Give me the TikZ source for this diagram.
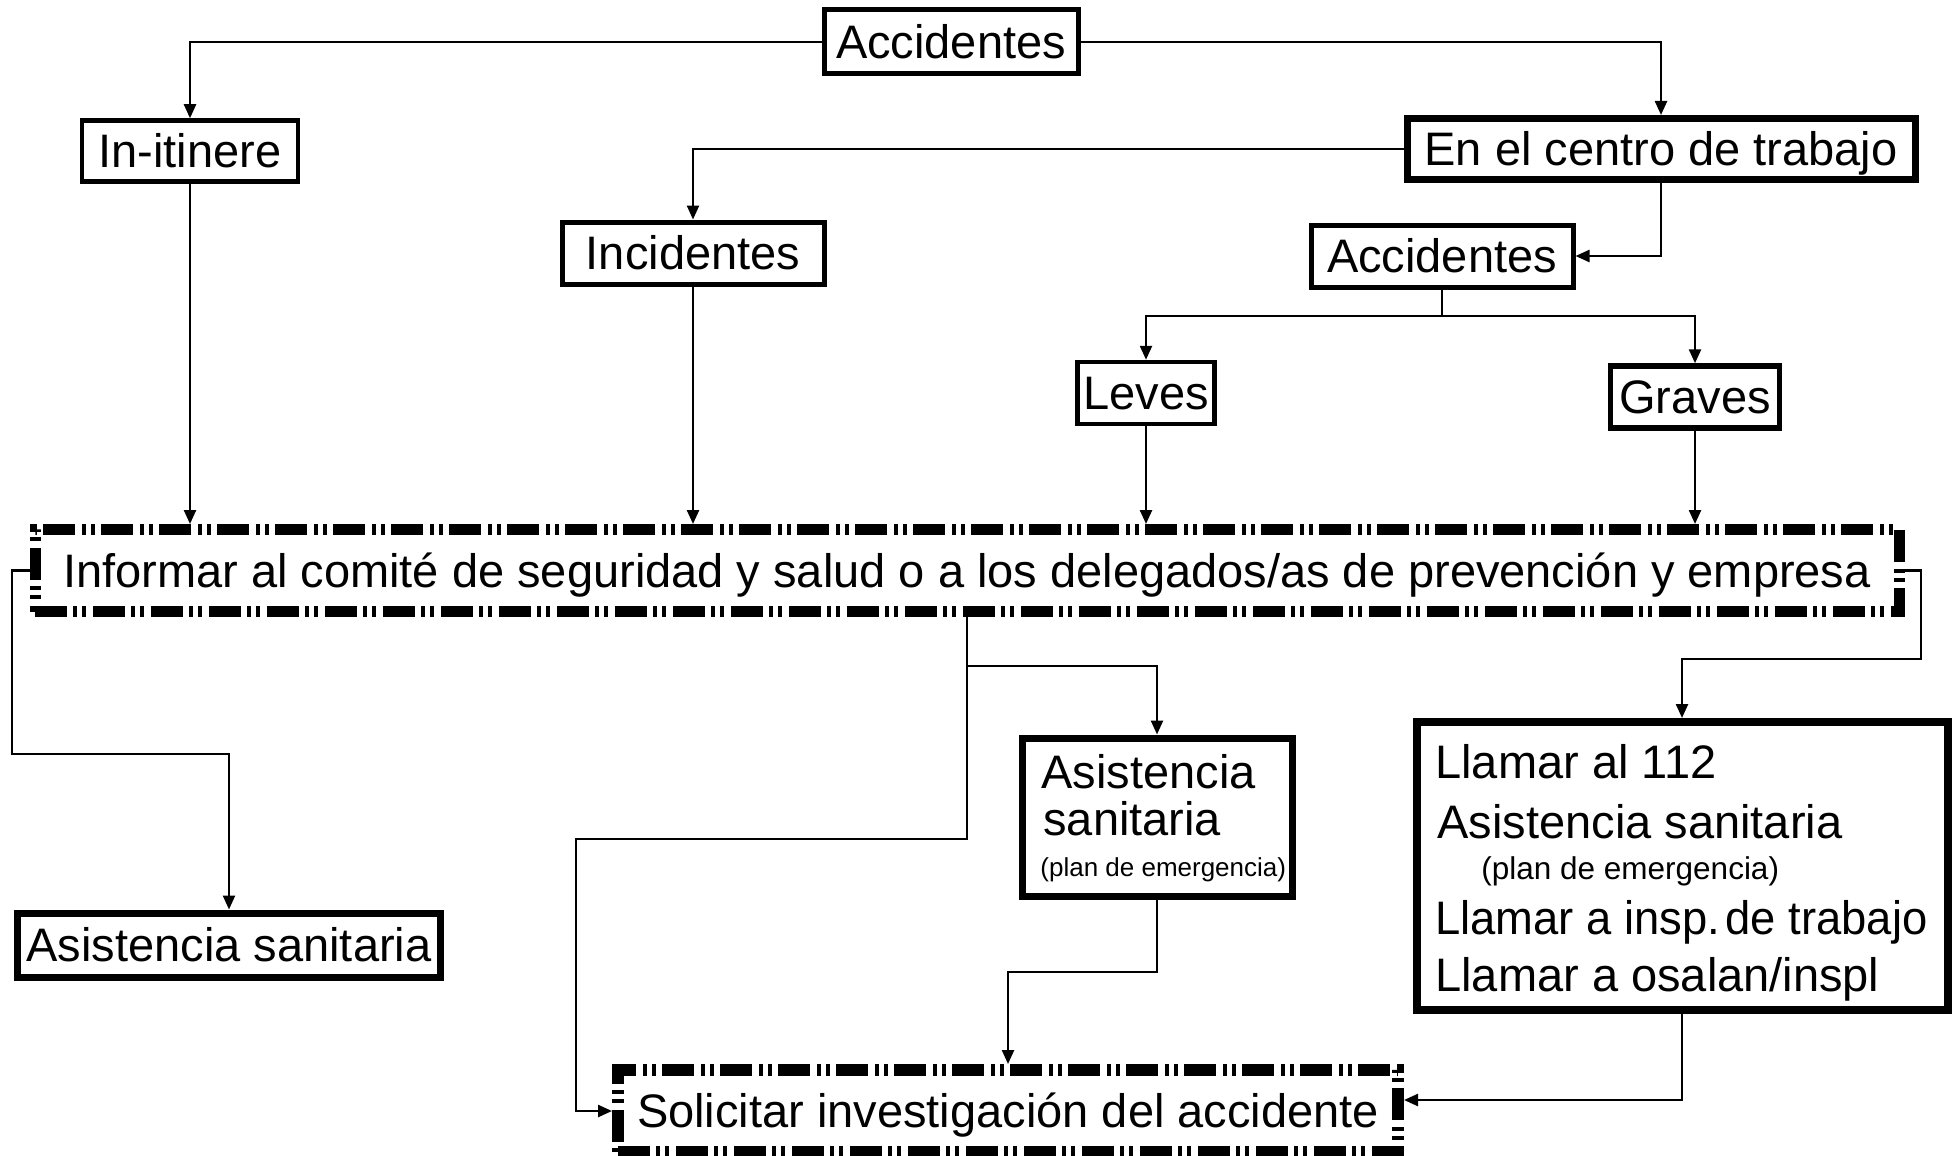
\documentclass[tikz,border=0pt]{standalone}
\usepackage{fontspec}
\setmainfont{Liberation Sans}
\usetikzlibrary{arrows.meta}
\newcommand\bigfnt{\fontsize{23.5}{28}\selectfont}
\newcommand\midfnt{\fontsize{15.75}{18}\selectfont}
\newcommand\smlfnt{\fontsize{13}{15}\selectfont}
\begin{document}
\begin{tikzpicture}[x=0.5pt,y=-0.5pt,
  box/.style={draw=black, fill=white, inner sep=0pt, font=\bigfnt, text height=16.8pt, text depth=0pt},
  txt/.style={inner sep=0pt, font=\bigfnt, anchor=base west},
  dbox/.style={draw=black, fill=white, inner sep=0pt, font=\bigfnt, text height=16.8pt, text depth=0pt,
     dash pattern=on 16pt off 3pt on 2pt off 2.5pt on 2pt off 3.5pt},
  conn/.style={draw=black, line width=1.2pt, -{Triangle[length=7pt,width=6pt]}},
  plain/.style={draw=black, line width=1.2pt}
]
\useasboundingbox (0,0) rectangle (1960,1156);

% nodes
\node[box, line width=2.5pt, minimum width=127pt, minimum height=32pt] (acc1) at (951,42) {Accidentes};
\node[box, line width=2.25pt, minimum width=108pt, minimum height=30.5pt] (itin) at (190,151) {In-itinere};
\node[box, line width=3.5pt, minimum width=254pt, minimum height=30.5pt] (centro) at (1661,149) {En el centro de trabajo};
\node[box, line width=2.5pt, minimum width=131pt, minimum height=31pt] (incid) at (693,253) {Incidentes};
\node[box, line width=2.5pt, minimum width=131pt, minimum height=31pt] (acc2) at (1442,256) {Accidentes};
\node[box, line width=2.25pt, minimum width=68.5pt, minimum height=31pt] (leves) at (1146,393) {Leves};
\node[box, line width=2.75pt, minimum width=84.5pt, minimum height=31pt] (graves) at (1695,397) {Graves};
\node[dbox, line width=5.5pt, minimum width=932pt, minimum height=41pt] (informar) at (967,570.5)
   {Informar al comité de seguridad y salud o a los delegados/as de prevención y empresa};
\node[box, line width=3.5pt, minimum width=211.5pt, minimum height=32pt] (asist1) at (229,945) {Asistencia sanitaria};
\node[box, line width=3.5pt, minimum width=135pt, minimum height=79pt] (asist2) at (1157,817) {};
\node[box, line width=4pt, minimum width=265.5pt, minimum height=144pt] (llamar) at (1682,866) {};
\node[dbox, line width=6pt, minimum width=390pt, minimum height=41pt] (solic) at (1008,1111)
   {Solicitar investigación del accidente};

% texts inside multi-line boxes
\node[txt] (a2l1) at (1041,788) {Asistencia};
\node[txt] (a2l2) at (1043,835) {sanitaria};
\node[txt, font=\smlfnt] (a2l3) at (1040,876) {(plan de emergencia)};

\node[txt] (ll1) at (1435,778) {Llamar al 112};
\node[txt] (ll2) at (1437,838) {Asistencia sanitaria};
\node[txt, font=\midfnt] (ll3) at (1481,879) {(plan de emergencia)};
\node[txt] (ll4) at (1435,934) {\scalebox{0.965}[1]{Llamar a insp.\hspace{0.12em}de trabajo}};
\node[txt] (ll5) at (1435,991) {Llamar a osalan/inspl};

% junction coordinates
\coordinate (j1) at (1442,316);
\coordinate (w1) at (12,754);
\coordinate (j2) at (967,666);
\coordinate (j3) at (967,839);
\coordinate (j4) at (576,839);
\coordinate (j5) at (1157,972);
\coordinate (j6) at (1921,659);
\coordinate (j7) at (1682,1100);

% connectors
\draw[conn] (acc1.west) -| (itin.north);
\draw[conn] (acc1.east) -| (centro.north);
\draw[conn] (centro.west) -| (incid.north);
\draw[conn] (centro.south) |- (acc2.east);
\draw[plain] (acc2.south) -- (j1);
\draw[conn] (j1) -| (leves.north);
\draw[conn] (j1) -| (graves.north);
\draw[conn] (itin.south) -- (itin.south |- informar.north);
\draw[conn] (incid.south) -- (incid.south |- informar.north);
\draw[conn] (leves.south) -- (leves.south |- informar.north);
\draw[conn] (graves.south) -- (graves.south |- informar.north);
\draw[conn] (informar.west) -| (w1) -| (asist1.north);
\draw[plain] (informar.south) -- (j2);
\draw[conn] (j2) -| (asist2.north);
\draw[conn] (j2) -- (j3) -- (j4) |- (solic.west);
\draw[conn] (asist2.south) -- (j5) -| (solic.north);
\draw[conn] (informar.east) -| (j6) -| (llamar.north);
\draw[conn] (llamar.south) -- (j7) -- (solic.east |- j7);
\end{tikzpicture}
\end{document}
